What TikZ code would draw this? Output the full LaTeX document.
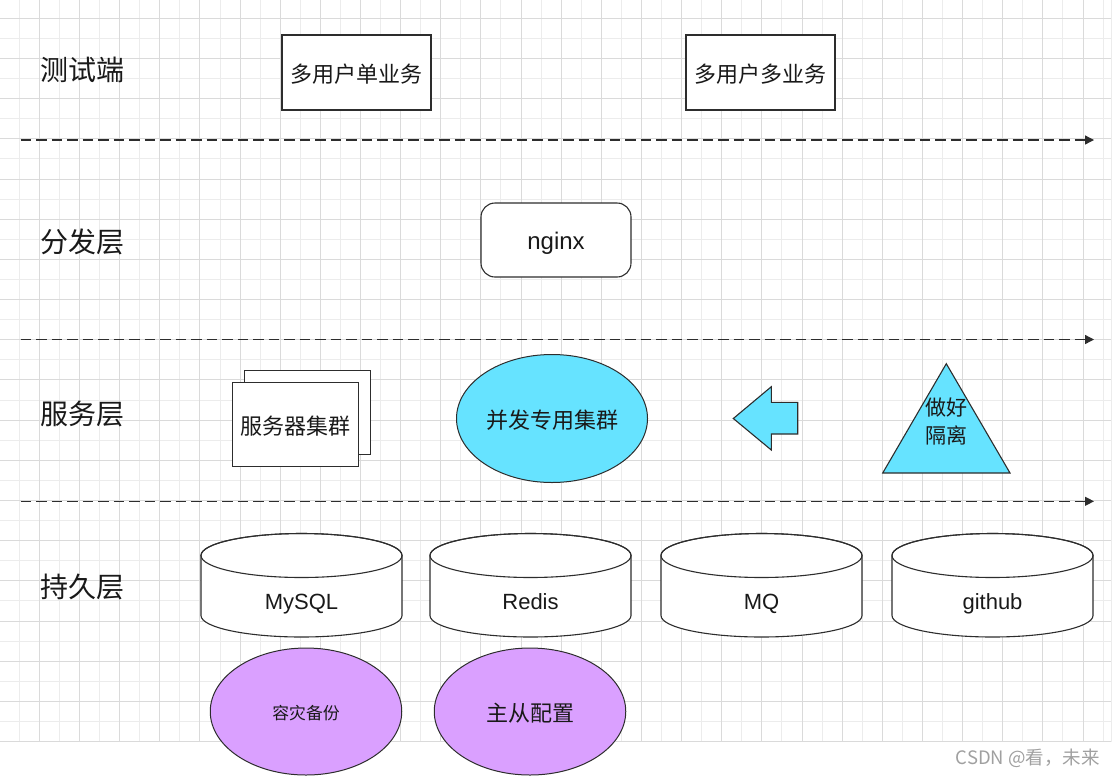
\documentclass[tikz,border=0pt]{standalone}
\usepackage{fontspec}
\setmainfont{Liberation Sans}
\newfontfamily\cjk{Noto Sans CJK SC}
\usetikzlibrary{shapes.geometric,arrows.meta}
\definecolor{cyanfill}{RGB}{102,227,255}
\definecolor{purplefill}{RGB}{218,160,255}
\definecolor{gridmajor}{RGB}{218,218,218}
\definecolor{gridminor}{RGB}{236,236,236}
\definecolor{strokec}{RGB}{45,45,45}
\definecolor{marktext}{RGB}{160,160,160}
\definecolor{inkc}{RGB}{25,25,25}
\begin{document}
\begin{tikzpicture}[x=1pt,y=-1pt,
  layer/.style={anchor=west,inner sep=0pt,text=inkc,font=\cjk\fontsize{28}{32}\selectfont},
  cjktext/.style={text height=19.6pt,text depth=0pt},
  box/.style={draw=strokec,line width=1.1pt,fill=white,inner sep=0pt,text=inkc,font=\cjk\fontsize{22}{26}\selectfont},
  shapeline/.style={draw=strokec,line width=1.1pt},
  sepline/.style={draw=strokec,line width=1.3pt,dash pattern=on 10.5pt off 5pt,-{Triangle[length=9pt,width=9pt]}},
  dbtext/.style={anchor=base,inner sep=0pt,text=inkc,font=\fontsize{22}{26}\selectfont},
  oval/.style={ellipse,draw=strokec,line width=1pt,inner sep=0pt,text=inkc}]
\useasboundingbox (0,0) rectangle (1115,777);
% grid
\foreach \i in {0,2,...,54} \draw[gridminor,line width=1pt] ({19.3+20.07*\i},0) -- ({19.3+20.07*\i},741.5);
\foreach \j in {1,3,...,35} \draw[gridminor,line width=1pt] (0,{18.3+20.09*\j}) -- (1111,{18.3+20.09*\j});
\draw[gridminor,line width=1pt] (1111,0) -- (1111,741.5);
\foreach \i in {1,3,...,53} \draw[gridmajor,line width=1pt] ({19.3+20.07*\i},0) -- ({19.3+20.07*\i},741.5);
\foreach \j in {0,2,...,36} \draw[gridmajor,line width=1pt] (0,{18.3+20.09*\j}) -- (1111,{18.3+20.09*\j});

% layer labels
\node[layer] (l1) at (40,70) {测试端};
\node[layer] (l2) at (40,242) {分发层};
\node[layer] (l3) at (40,414) {服务层};
\node[layer] (l4) at (40,586.5) {持久层};

% separators
\coordinate (s1) at (20.7,140);   \coordinate (e1) at (1094,140);
\coordinate (s2) at (20.7,339.5); \coordinate (e2) at (1094,339.5);
\coordinate (s3) at (20.7,501.3); \coordinate (e3) at (1094,501.3);
\draw[sepline] (s1) -- (e1);
\draw[sepline] (s2) -- (e2);
\draw[sepline] (s3) -- (e3);

% test side
\node[box,cjktext,minimum width=149pt,minimum height=75pt] (b1) at (356.5,72.5) {多用户单业务};
\node[box,cjktext,minimum width=149pt,minimum height=75pt] (b2) at (760.5,72.5) {多用户多业务};

% dispatch
\node[box,rounded corners=14pt,minimum width=150pt,minimum height=74pt,text height=18.6pt,text depth=0pt,font=\fontsize{24}{28}\selectfont] (ngx) at (556,240) {nginx};

% service layer
\filldraw[shapeline,fill=white] (244.3,370.3) rectangle (370.7,454.3);
\node[box,cjktext,minimum width=126pt,minimum height=84pt] (srv) at (295.3,424.3) {服务器集群};
\node[oval,cjktext,fill=cyanfill,minimum width=191pt,minimum height=128pt,font=\cjk\fontsize{22}{26}\selectfont] (conc) at (552,418.5) {并发专用集群};
\filldraw[shapeline,fill=cyanfill] (733.3,418.5) -- (771.3,386.7) -- (771.3,402.3) -- (797.7,402.3) -- (797.7,434) -- (771.3,434) -- (771.3,450) -- cycle;
\filldraw[shapeline,fill=cyanfill] (946.3,363.7) -- (1010,473) -- (882.7,473) -- cycle;
\node[align=center,inner sep=0pt,text=inkc,font=\cjk\fontsize{21}{27.3}\selectfont] (iso) at (946,421.5) {做好\\隔离};

% persistence layer
\foreach \cx/\nm/\tx in {301.5/mysql/MySQL, 530.5/redis/Redis, 761.5/mq/MQ, 992.5/gh/github} {
  \filldraw[shapeline,fill=white] (\cx-100.5,555.5) -- (\cx-100.5,615.5)
     arc[start angle=180,end angle=0,x radius=100.5,y radius=21.5]
     -- (\cx+100.5,555.5)
     arc[start angle=0,end angle=-180,x radius=100.5,y radius=22] -- cycle;
  \draw[shapeline] (\cx,555.5) ellipse[x radius=100.5,y radius=22];
  \node[dbtext] (\nm) at (\cx,609) {\tx};
}

\node[oval,fill=purplefill,minimum width=191.5pt,minimum height=127pt,text height=15pt,text depth=0pt,font=\cjk\fontsize{16.8}{20}\selectfont] (dr) at (306,711.5) {容灾备份};
\node[oval,cjktext,fill=purplefill,minimum width=191.5pt,minimum height=127pt,font=\cjk\fontsize{22}{26}\selectfont] (ms) at (530,711.5) {主从配置};

% watermark
\node[anchor=east,inner sep=0pt,text=marktext,font=\cjk\fontsize{18.5}{22}\selectfont] (wm) at (1100,758) {CSDN @看，未来};
\end{tikzpicture}
\end{document}
